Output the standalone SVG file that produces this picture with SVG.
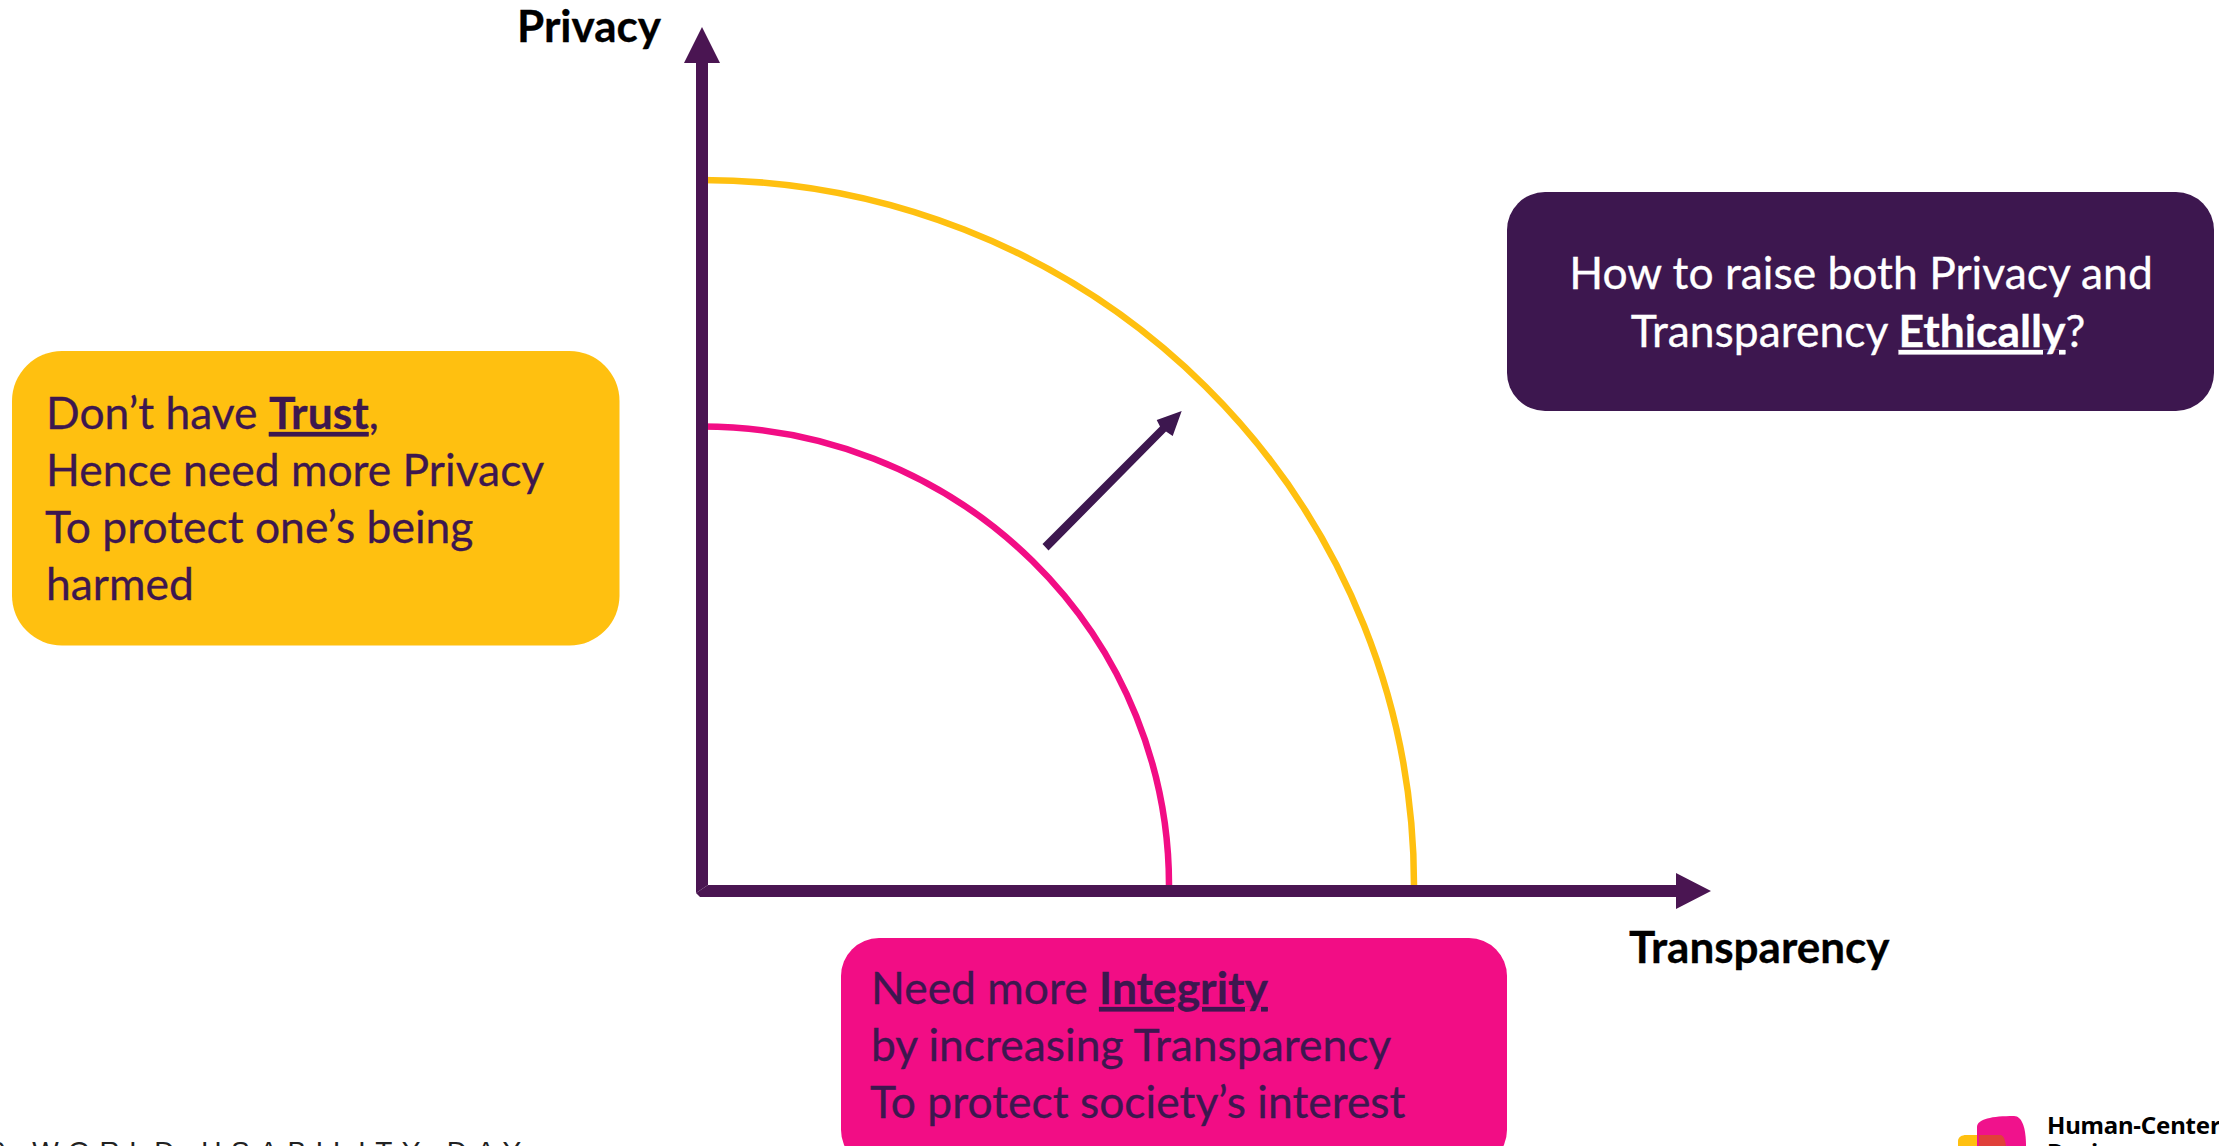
<svg xmlns="http://www.w3.org/2000/svg" width="2219" height="1146" viewBox="0 0 2219 1146">
<style>
text{font-family:Lato,"Noto Sans",sans-serif;font-size:44.400px;fill:#3d174f;stroke:#3d174f;stroke-width:.3px}
.b{font-weight:700;text-decoration:underline}
.lab{font-weight:700;fill:#000;stroke:#000;font-size:44px}
.w{fill:#fff;stroke:#fff}
.box{stroke:none}
.ax{fill:#4a1552}
.arc{fill:none;stroke-width:6.500}
</style>
<rect width="2219" height="1146" fill="#fff"/>
<g id="connectors">
<path class="arc" stroke="#f20d85" d="M702 426.500A467 458.500 0 0 1 1169 885"/>
<path class="arc" stroke="#ffc010" d="M702 180A712 705 0 0 1 1414 885"/>
<path id="y-axis" class="ax" d="M696 893V63H684L702 27L720 63H708V885Z"/>
<path id="x-axis" class="ax" d="M700 897L696 893L708 885H1676V873L1711 891L1676 909V897Z"/>
<path id="shift-arrow" fill="#3d174f" d="M1042.500 544L1160 426.500L1156.700 420L1181.700 411L1172.700 436L1166 431.500L1048.500 550.500Z"/>
</g>
<g id="node-trust">
<rect class="box" x="12" y="351" width="607.500" height="294.500" rx="50" fill="#ffc010"/>
<text x="46" y="429">Don’t have <tspan class="b">Trust</tspan>,</text>
<text x="46" y="486">Hence need more Privacy</text>
<text x="45" y="543">To protect one’s being</text>
<text x="46" y="600">harmed</text>
</g>
<g id="node-ethics">
<rect class="box" x="1507" y="192" width="707" height="219" rx="38" fill="#3d174f"/>
<text class="w" x="1861" y="289" text-anchor="middle">How to raise both Privacy and</text>
<text class="w" x="1858" y="347" text-anchor="middle">Transparency <tspan class="b w">Ethically</tspan>?</text>
</g>
<g id="node-integrity">
<rect class="box" x="841" y="938" width="666" height="230" rx="38" fill="#f20d85"/>
<text x="871" y="1004">Need more <tspan class="b">Integrity</tspan></text>
<text x="871" y="1061">by increasing Transparency</text>
<text x="870" y="1118">To protect society’s interest</text>
</g>
<g id="label-privacy"><text class="lab" x="517" y="42">Privacy</text></g>
<g id="label-transparency"><text class="lab" x="1629" y="963">Transparency</text></g>
<g id="footer">
<text x="-10" y="1161" style="font-family:'Liberation Sans',sans-serif;font-size:28px;letter-spacing:9.500px;fill:#222;stroke:none">0 WORLD USABILITY DAY</text>
</g>
<g id="logo">
<path d="M1977 1127C1977 1119 1992 1116 2014 1116C2022 1116 2026 1128 2026 1146H1977Z" fill="#f0128c"/>
<path d="M1958 1146V1141C1958 1137 1962 1135 1966 1135H1977V1146Z" fill="#ffc010"/>
<path d="M1979 1135H2000C2004 1135 2005 1140 2006 1146H1979Z" fill="#e0403a"/>
<text x="2047" y="1134" style="font-family:'Noto Sans',sans-serif;font-weight:700;font-size:24px;letter-spacing:-.2px;fill:#000;stroke:none">Human-Centered</text>
<text x="2047" y="1161" style="font-family:'Noto Sans',sans-serif;font-weight:700;font-size:24px;fill:#000;stroke:none">Design</text>
</g>
</svg>
